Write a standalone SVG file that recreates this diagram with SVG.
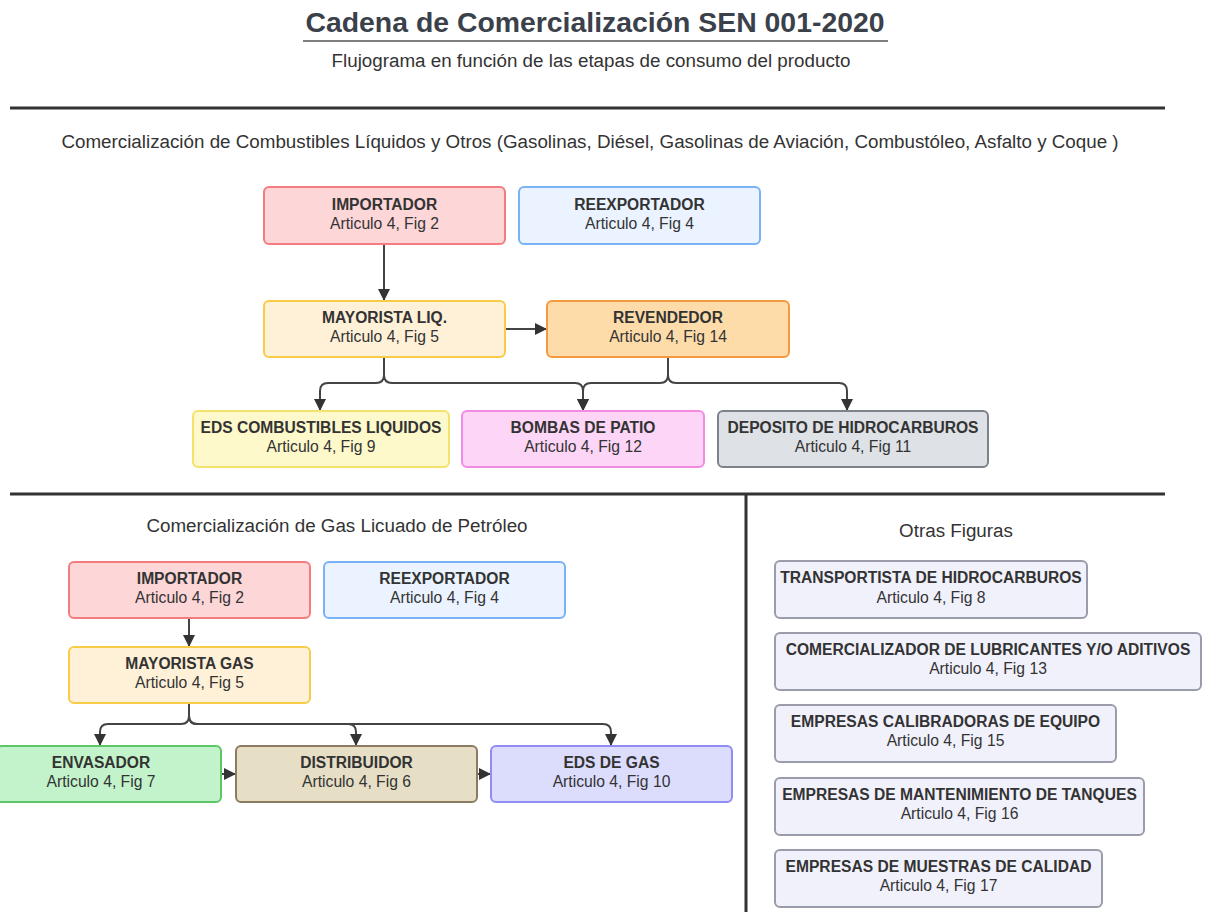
<svg xmlns="http://www.w3.org/2000/svg" width="1207" height="912" viewBox="0 0 1207 912">
<style>
text{font-family:"Liberation Sans",Arial,sans-serif;fill:#333;}
.t{font-size:28.4px;font-weight:bold;fill:#3a414a;text-anchor:middle;}
.s{font-size:18.8px;text-anchor:middle;}
.h{font-size:18.8px;text-anchor:middle;}
.b{font-size:15.6px;font-weight:bold;text-anchor:middle;}
.r{font-size:15.7px;text-anchor:middle;}
.sep{stroke:#333;stroke-width:3;fill:none;}
.c{stroke:#444;stroke-width:2;fill:none;}
rect{stroke-width:2;}
.red{fill:#fdd6d8;stroke:#f47b7e;}
.blue{fill:#eaf3ff;stroke:#7ab2f6;}
.yel{fill:#fff1d8;stroke:#f8cb48;}
.ora{fill:#fedcaa;stroke:#f5993f;}
.lem{fill:#fdf9cb;stroke:#f5e26c;}
.pink{fill:#fdd5f6;stroke:#f28be1;}
.gray{fill:#dee1e5;stroke:#7e838a;}
.grn{fill:#c3f3cb;stroke:#5cc766;}
.tan{fill:#e6dfc6;stroke:#8a7b61;}
.vio{fill:#dcdcfd;stroke:#8f8df5;}
.lav{fill:#f1f1fc;stroke:#9a9cab;}
</style>
<defs>
<marker id="ah" markerUnits="userSpaceOnUse" markerWidth="12" markerHeight="12" viewBox="0 0 12 12" refX="11" refY="6" orient="auto">
<path d="M0,0 L12,6 L0,12 Z" fill="#333"/>
</marker>
</defs>
<rect width="1207" height="912" fill="#fff" stroke="none"/>
<g id="title">
<text class="t" x="595" y="32">Cadena de Comercialización SEN 001-2020</text>
<line x1="303" y1="41" x2="888" y2="41" stroke="#555" stroke-width="1.5"/>
<text class="s" x="591" y="67">Flujograma en función de las etapas de consumo del producto</text>
</g>
<g id="separators">
<line class="sep" x1="10" y1="108" x2="1165" y2="108"/>
<line class="sep" x1="10" y1="494" x2="1165" y2="494"/>
<line class="sep" x1="746" y1="494" x2="746" y2="912"/>
</g>
<g id="section-labels">
<text class="h" x="590" y="148">Comercialización de Combustibles Líquidos y Otros (Gasolinas, Diésel, Gasolinas de Aviación, Combustóleo, Asfalto y Coque )</text>
<text class="h" x="337" y="532">Comercialización de Gas Licuado de Petróleo</text>
<text class="h" x="956" y="537">Otras Figuras</text>
</g>
<g id="connectors">
<path class="c" d="M384,244 V300" marker-end="url(#ah)"/>
<path class="c" d="M505,329 H546" marker-end="url(#ah)"/>
<path class="c" d="M384,357 V375 Q384,383 376,383 H328 Q320,383 320,391 V410" marker-end="url(#ah)"/>
<path class="c" d="M384,357 V375 Q384,383 392,383 H575 Q583,383 583,391 V410" marker-end="url(#ah)"/>
<path class="c" d="M668,357 V375 Q668,383 660,383 H591 Q583,383 583,391 V410" marker-end="url(#ah)"/>
<path class="c" d="M668,357 V375 Q668,383 676,383 H839 Q847,383 847,391 V410" marker-end="url(#ah)"/>
<path class="c" d="M189,618 V646" marker-end="url(#ah)"/>
<path class="c" d="M189,703 V716 Q189,724 181,724 H108 Q100,724 100,732 V745" marker-end="url(#ah)"/>
<path class="c" d="M189,703 V716 Q189,724 197,724 H348 Q356,724 356,732 V745" marker-end="url(#ah)"/>
<path class="c" d="M189,703 V716 Q189,724 197,724 H603 Q611,724 611,732 V745" marker-end="url(#ah)"/>
<path class="c" d="M221,774 H235" marker-end="url(#ah)"/>
<path class="c" d="M477,774 H490" marker-end="url(#ah)"/>
</g>
<g id="liq-importador"><rect class="red" x="264" y="187" width="241" height="57" rx="5"/><text class="b" x="384.5" y="210">IMPORTADOR</text><text class="r" x="384.5" y="229">Articulo 4, Fig 2</text></g>
<g id="liq-reexportador"><rect class="blue" x="519" y="187" width="241" height="57" rx="5"/><text class="b" x="639.5" y="210">REEXPORTADOR</text><text class="r" x="639.5" y="229">Articulo 4, Fig 4</text></g>
<g id="liq-mayorista"><rect class="yel" x="264" y="301" width="241" height="56" rx="5"/><text class="b" x="384.5" y="323">MAYORISTA LIQ.</text><text class="r" x="384.5" y="342">Articulo 4, Fig 5</text></g>
<g id="liq-revendedor"><rect class="ora" x="547" y="301" width="242" height="56" rx="5"/><text class="b" x="668" y="323">REVENDEDOR</text><text class="r" x="668" y="342">Articulo 4, Fig 14</text></g>
<g id="liq-eds"><rect class="lem" x="193" y="411" width="256" height="56" rx="5"/><text class="b" x="321" y="433">EDS COMBUSTIBLES LIQUIDOS</text><text class="r" x="321" y="452">Articulo 4, Fig 9</text></g>
<g id="liq-bombas"><rect class="pink" x="462" y="411" width="242" height="56" rx="5"/><text class="b" x="583" y="433">BOMBAS DE PATIO</text><text class="r" x="583" y="452">Articulo 4, Fig 12</text></g>
<g id="liq-deposito"><rect class="gray" x="718" y="411" width="270" height="56" rx="5"/><text class="b" x="853" y="433">DEPOSITO DE HIDROCARBUROS</text><text class="r" x="853" y="452">Articulo 4, Fig 11</text></g>
<g id="gas-importador"><rect class="red" x="69" y="562" width="241" height="56" rx="5"/><text class="b" x="189.5" y="584">IMPORTADOR</text><text class="r" x="189.5" y="603">Articulo 4, Fig 2</text></g>
<g id="gas-reexportador"><rect class="blue" x="324" y="562" width="241" height="56" rx="5"/><text class="b" x="444.5" y="584">REEXPORTADOR</text><text class="r" x="444.5" y="603">Articulo 4, Fig 4</text></g>
<g id="gas-mayorista"><rect class="yel" x="69" y="647" width="241" height="56" rx="5"/><text class="b" x="189.5" y="669">MAYORISTA GAS</text><text class="r" x="189.5" y="688">Articulo 4, Fig 5</text></g>
<g id="gas-envasador"><rect class="grn" x="-3" y="746" width="224" height="56" rx="5"/><text class="b" x="101" y="768">ENVASADOR</text><text class="r" x="101" y="787">Articulo 4, Fig 7</text></g>
<g id="gas-distribuidor"><rect class="tan" x="236" y="746" width="241" height="56" rx="5"/><text class="b" x="356.5" y="768">DISTRIBUIDOR</text><text class="r" x="356.5" y="787">Articulo 4, Fig 6</text></g>
<g id="gas-eds"><rect class="vio" x="491" y="746" width="241" height="56" rx="5"/><text class="b" x="611.5" y="768">EDS DE GAS</text><text class="r" x="611.5" y="787">Articulo 4, Fig 10</text></g>
<g id="otra-transportista"><rect class="lav" x="775" y="561" width="312" height="57" rx="5"/><text class="b" x="931" y="583">TRANSPORTISTA DE HIDROCARBUROS</text><text class="r" x="931" y="603">Articulo 4, Fig 8</text></g>
<g id="otra-comercializador"><rect class="lav" x="775" y="633" width="426" height="57" rx="5"/><text class="b" x="988" y="655">COMERCIALIZADOR DE LUBRICANTES Y/O ADITIVOS</text><text class="r" x="988" y="674">Articulo 4, Fig 13</text></g>
<g id="otra-calibradoras"><rect class="lav" x="775" y="705" width="341" height="57" rx="5"/><text class="b" x="945.5" y="727">EMPRESAS CALIBRADORAS DE EQUIPO</text><text class="r" x="945.5" y="746">Articulo 4, Fig 15</text></g>
<g id="otra-mantenimiento"><rect class="lav" x="775" y="778" width="369" height="57" rx="5"/><text class="b" x="959.5" y="800">EMPRESAS DE MANTENIMIENTO DE TANQUES</text><text class="r" x="959.5" y="819">Articulo 4, Fig 16</text></g>
<g id="otra-muestras"><rect class="lav" x="775" y="850" width="327" height="57" rx="5"/><text class="b" x="938.5" y="872">EMPRESAS DE MUESTRAS DE CALIDAD</text><text class="r" x="938.5" y="891">Articulo 4, Fig 17</text></g>
</svg>
